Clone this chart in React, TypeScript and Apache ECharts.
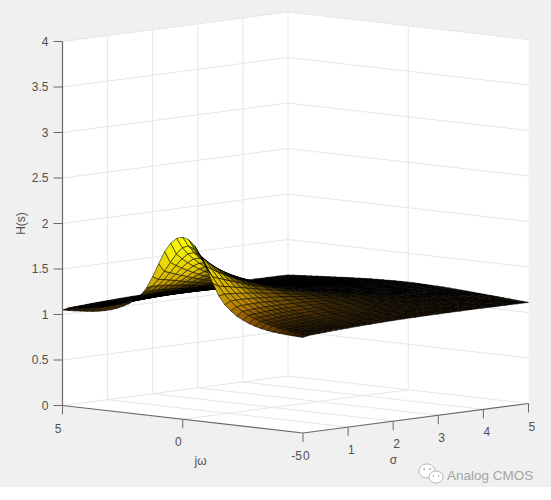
import React, { useEffect, useRef } from "react";
import * as echarts from "echarts";

const zTicks = [0, 0.5, 1, 1.5, 2, 2.5, 3, 3.5, 4];
const sigmaTicks = [0, 1, 2, 3, 4, 5];
const omegaTicks = [5, 0, -5];
const omegaHalf = [0,0.25,0.5,0.75,1,1.25,1.5,1.75,2,2.25,2.5,2.75,3,3.25,3.5,3.75,4,4.25,4.5,4.75,5];
const sigmaValues = [0,0.125,0.25,0.375,0.5,0.625,0.75,0.875,1,1.25,1.5,1.75,2,2.25,2.5,2.75,3,3.25,3.5,3.75,4,4.25,4.5,4.75,5];
// |H(s)| in thousandths, one row per sigma value, columns for |jw| = 0..5
const surfaceMilli = [
[2000,1980,1920,1820,1680,1530,1400,1310,1250,1200,1165,1135,1112,1095,1082,1072,1065,1060,1055,1052,1050],
[1899,1870,1794,1693,1588,1493,1411,1343,1289,1245,1209,1180,1156,1137,1120,1106,1095,1085,1076,1069,1063],
[1816,1794,1734,1653,1565,1481,1408,1346,1294,1251,1216,1187,1163,1144,1127,1113,1100,1091,1082,1074,1068],
[1748,1731,1683,1616,1542,1470,1404,1346,1298,1257,1222,1194,1170,1150,1132,1118,1106,1096,1086,1079,1072],
[1690,1676,1638,1583,1520,1457,1397,1345,1299,1260,1227,1199,1175,1155,1138,1124,1111,1100,1090,1083,1075],
[1640,1628,1598,1552,1499,1443,1390,1342,1300,1262,1230,1203,1180,1160,1143,1128,1115,1104,1095,1086,1079],
[1597,1587,1562,1524,1478,1429,1382,1338,1299,1263,1233,1207,1184,1164,1147,1132,1119,1108,1099,1090,1082],
[1559,1551,1530,1497,1458,1415,1373,1333,1296,1263,1234,1209,1187,1167,1150,1136,1123,1112,1102,1093,1086],
[1526,1520,1501,1473,1439,1402,1364,1328,1294,1263,1235,1211,1189,1170,1154,1139,1126,1115,1105,1096,1088],
[1471,1466,1453,1432,1406,1377,1346,1316,1287,1260,1236,1213,1193,1175,1159,1145,1132,1121,1111,1102,1094],
[1426,1423,1412,1397,1376,1353,1328,1303,1279,1255,1233,1213,1195,1178,1163,1149,1137,1126,1116,1107,1099],
[1388,1385,1378,1365,1349,1331,1310,1289,1269,1248,1229,1211,1194,1178,1165,1151,1140,1129,1120,1111,1103],
[1357,1355,1349,1339,1326,1311,1294,1277,1259,1241,1224,1208,1193,1179,1165,1153,1142,1132,1122,1114,1106],
[1331,1329,1324,1316,1306,1294,1280,1265,1250,1234,1219,1205,1191,1178,1166,1154,1144,1134,1125,1117,1109],
[1308,1307,1302,1296,1288,1277,1265,1253,1240,1226,1213,1200,1188,1176,1164,1154,1144,1135,1126,1118,1111],
[1288,1287,1283,1278,1271,1262,1253,1242,1230,1219,1207,1196,1184,1173,1163,1153,1144,1135,1127,1120,1112],
[1270,1269,1266,1262,1256,1248,1240,1231,1221,1211,1201,1190,1180,1170,1161,1152,1143,1135,1127,1120,1113],
[1255,1254,1252,1248,1243,1237,1230,1222,1213,1204,1195,1186,1176,1168,1159,1150,1143,1135,1128,1121,1114],
[1241,1240,1238,1235,1231,1225,1219,1212,1205,1197,1189,1181,1172,1164,1156,1148,1141,1134,1127,1121,1114],
[1229,1228,1227,1224,1220,1215,1210,1204,1197,1191,1183,1176,1168,1161,1154,1147,1140,1133,1126,1120,1115],
[1217,1217,1215,1213,1209,1205,1201,1195,1189,1183,1177,1170,1164,1157,1150,1144,1137,1131,1125,1119,1114],
[1207,1207,1205,1203,1200,1197,1193,1188,1183,1177,1172,1166,1159,1153,1147,1141,1135,1130,1124,1119,1113],
[1198,1198,1196,1195,1192,1189,1185,1181,1177,1172,1167,1161,1156,1150,1144,1139,1133,1128,1123,1118,1113],
[1190,1190,1189,1187,1185,1182,1179,1175,1171,1167,1162,1157,1152,1147,1142,1137,1131,1127,1122,1117,1112],
[1182,1182,1181,1179,1177,1175,1172,1169,1165,1161,1157,1152,1148,1143,1139,1134,1129,1125,1120,1115,1111],
];

const omegaValues = [...omegaHalf].reverse().concat(omegaHalf.slice(1).map((w) => -w));
const zAt = (si: number, wi: number) => {
  const half = Math.abs(wi - (omegaValues.length - 1) / 2);
  return surfaceMilli[si][half] / 1000;
};

const project = (w: number, s: number, z: number) => [
  303 + ((w + 5) / 10) * -240.5 + (s / 5) * 225.5,
  433 + ((w + 5) / 10) * -27.5 + (s / 5) * -29.5 - z * 91,
];

const stops: [number, number, number, number][] = [
  [1.0, 40, 20, 0],
  [1.1, 105, 62, 0],
  [1.2, 150, 95, 0],
  [1.3, 185, 130, 0],
  [1.5, 215, 180, 0],
  [1.75, 240, 230, 0],
  [2.0, 252, 252, 0],
];
const colormap = (z: number) => {
  for (let i = 1; i < stops.length; i++) {
    if (z <= stops[i][0]) {
      const a = stops[i - 1];
      const b = stops[i];
      const t = Math.max(0, (z - a[0]) / (b[0] - a[0]));
      return [a[1] + (b[1] - a[1]) * t, a[2] + (b[2] - a[2]) * t, a[3] + (b[3] - a[3]) * t];
    }
  }
  return [252, 252, 0];
};

type Seg = { a: number[]; b: number[]; dark?: boolean };
const gridSegs: Seg[] = [];
zTicks.forEach((z) => {
  gridSegs.push({ a: project(5, 0, z), b: project(5, 5, z) });
  gridSegs.push({ a: project(5, 5, z), b: project(-5, 5, z) });
});
sigmaTicks.slice(1).forEach((s) => {
  gridSegs.push({ a: project(5, s, 0), b: project(5, s, 4) });
  if (s < 5) gridSegs.push({ a: project(5, s, 0), b: project(-5, s, 0) });
});
omegaTicks.slice(1, 2).forEach((w) => {
  gridSegs.push({ a: project(w, 0, 0), b: project(w, 5, 0) });
  gridSegs.push({ a: project(w, 5, 0), b: project(w, 5, 4) });
});
const axisSegs: Seg[] = [
  { a: project(5, 0, 0), b: project(5, 0, 4) },
  { a: project(5, 0, 0), b: project(-5, 0, 0) },
  { a: project(-5, 0, 0), b: project(-5, 5, 0) },
];
const tickSegs: number[][][] = [];
type Lab = { text: string; x: number; y: number; align: string; rotate?: number };
const labels: Lab[] = [];
zTicks.forEach((z) => {
  const p = project(5, 0, z);
  tickSegs.push([p, [p[0] - 9, p[1]]]);
  labels.push({ text: String(z), x: p[0] - 14, y: p[1], align: "right" });
});
omegaTicks.forEach((w) => {
  const p = project(w, 0, 0);
  tickSegs.push([p, [p[0], p[1] + 9]]);
  labels.push({ text: String(w), x: p[0] - 1, y: p[1] + 23, align: "right" });
});
sigmaTicks.forEach((s) => {
  const p = project(-5, s, 0);
  if (s > 0) tickSegs.push([p, [p[0], p[1] + 9]]);
  labels.push({ text: String(s), x: p[0], y: p[1] + 23, align: "left" });
});
labels.push({ text: "jω", x: 200.5, y: 461, align: "center" });
labels.push({ text: "σ", x: 393.5, y: 460, align: "center" });
labels.push({ text: "H(s)", x: 21, y: 223.5, align: "center", rotate: Math.PI / 2 });

const cells: number[][] = [];
for (let si = sigmaValues.length - 2; si >= 0; si--) {
  for (let wi = 0; wi < omegaValues.length - 1; wi++) cells.push([wi, si]);
}

const FONT = '12px "Liberation Sans", Arial, sans-serif';
const corners = [
  project(5, 0, 4), project(5, 5, 4), project(-5, 5, 4),
  project(-5, 5, 0), project(-5, 0, 0), project(5, 0, 0),
];

export default function App() {
  const ref = useRef<HTMLDivElement>(null);
  useEffect(() => {
    const chart = echarts.init(ref.current!, undefined, { renderer: "svg" });
    const line = (api: any, a: number[], b: number[], style: any) => {
      const p = api.coord(a);
      const q = api.coord(b);
      return { type: "line", shape: { x1: p[0], y1: p[1], x2: q[0], y2: q[1] }, style };
    };
    chart.setOption({
      animation: false,
      grid: { left: 0, right: 0, top: 0, bottom: 0 },
      xAxis: { type: "value", min: 0, max: 551, show: false },
      yAxis: { type: "value", min: 0, max: 500, inverse: true, show: false },
      graphic: [
        { type: "rect", z: -2, silent: true, shape: { x: 0, y: 0, width: 551, height: 487 }, style: { fill: "#f0f0f0" } },
        { type: "polygon", z: -1, silent: true, shape: { points: corners }, style: { fill: "#ffffff" } },
        { type: "ellipse", z: 5, silent: true, shape: { cx: 427, cy: 471, rx: 8, ry: 7 }, style: { fill: "#ffffff", stroke: "#b4b4b4", lineWidth: 1 } },
        { type: "ellipse", z: 6, silent: true, shape: { cx: 436, cy: 477, rx: 7, ry: 6 }, style: { fill: "#ffffff", stroke: "#b4b4b4", lineWidth: 1 } },
        { type: "circle", z: 7, silent: true, shape: { cx: 424, cy: 469, r: 1 }, style: { fill: "#b4b4b4" } },
        { type: "circle", z: 7, silent: true, shape: { cx: 430, cy: 469, r: 1 }, style: { fill: "#b4b4b4" } },
        { type: "circle", z: 7, silent: true, shape: { cx: 433.5, cy: 476, r: 0.8 }, style: { fill: "#b4b4b4" } },
        { type: "circle", z: 7, silent: true, shape: { cx: 438.5, cy: 476, r: 0.8 }, style: { fill: "#b4b4b4" } },
        { type: "text", z: 6, silent: true, x: 447, y: 475, style: { text: "Analog CMOS", fill: "#a4a4a4", font: '13.5px "Liberation Sans", Arial, sans-serif', verticalAlign: "middle", align: "left" } },
      ],
      series: [
        {
          type: "custom", coordinateSystem: "cartesian2d", silent: true, clip: false, z: 2,
          data: gridSegs.map((_, i) => [i, 0]),
          renderItem: (params: any, api: any) => {
            const s = gridSegs[params.dataIndex];
            return line(api, s.a, s.b, { stroke: "#e6e6e6", lineWidth: 1 });
          },
        },
        {
          type: "custom", coordinateSystem: "cartesian2d", silent: true, clip: false, z: 3,
          data: cells,
          renderItem: (params: any, api: any) => {
            const [wi, si] = cells[params.dataIndex];
            const w0 = omegaValues[wi], w1 = omegaValues[wi + 1];
            const s0 = sigmaValues[si], s1 = sigmaValues[si + 1];
            const z00 = zAt(si, wi), z10 = zAt(si, wi + 1), z11 = zAt(si + 1, wi + 1), z01 = zAt(si + 1, wi);
            const pts = [project(w0, s0, z00), project(w1, s0, z10), project(w1, s1, z11), project(w0, s1, z01)];
            const d1 = [pts[2][0] - pts[0][0], pts[2][1] - pts[0][1]];
            const d2 = [pts[3][0] - pts[1][0], pts[3][1] - pts[1][1]];
            const area = Math.abs(d1[0] * d2[1] - d1[1] * d2[0]) / 2;
            const density = area / (Math.abs(w1 - w0) * (s1 - s0));
            const lit = Math.min(1, Math.max(0, (density - 300) / 750));
            const c = colormap((z00 + z10 + z11 + z01) / 4);
            const k = Math.min(1, Math.pow(lit, 0.75));
            const fill = `rgb(${Math.round(c[0] * k)},${Math.round(c[1] * k)},${Math.round(c[2] * k)})`;
            return {
              type: "polygon",
              shape: { points: pts.map((p) => api.coord(p)) },
              style: { fill, stroke: "rgba(0,0,0,0.9)", lineWidth: 0.6 },
            };
          },
        },
        {
          type: "custom", coordinateSystem: "cartesian2d", silent: true, clip: false, z: 4,
          data: axisSegs.map((_, i) => [i, 0]),
          renderItem: (params: any, api: any) => {
            const s = axisSegs[params.dataIndex];
            return line(api, s.a, s.b, { stroke: "#6a6a6a", lineWidth: 1.2 });
          },
        },
        {
          type: "custom", coordinateSystem: "cartesian2d", silent: true, clip: false, z: 4,
          data: tickSegs.map((_, i) => [i, 0]),
          renderItem: (params: any, api: any) => {
            const s = tickSegs[params.dataIndex];
            return line(api, s[0], s[1], { stroke: "#6a6a6a", lineWidth: 1 });
          },
        },
        {
          type: "custom", coordinateSystem: "cartesian2d", silent: true, clip: false, z: 5,
          data: labels.map((_, i) => [i, 0]),
          renderItem: (params: any, api: any) => {
            const l = labels[params.dataIndex];
            const p = api.coord([l.x, l.y]);
            return {
              type: "text", x: p[0], y: p[1], rotation: l.rotate || 0,
              style: { text: l.text, fill: "#505050", font: FONT, align: l.align, verticalAlign: "middle" },
            };
          },
        },
      ],
    });
    return () => chart.dispose();
  }, []);
  return <div ref={ref} style={{ position: "absolute", left: 0, top: 0, width: 551, height: 500, background: "#fff" }} />;
}
